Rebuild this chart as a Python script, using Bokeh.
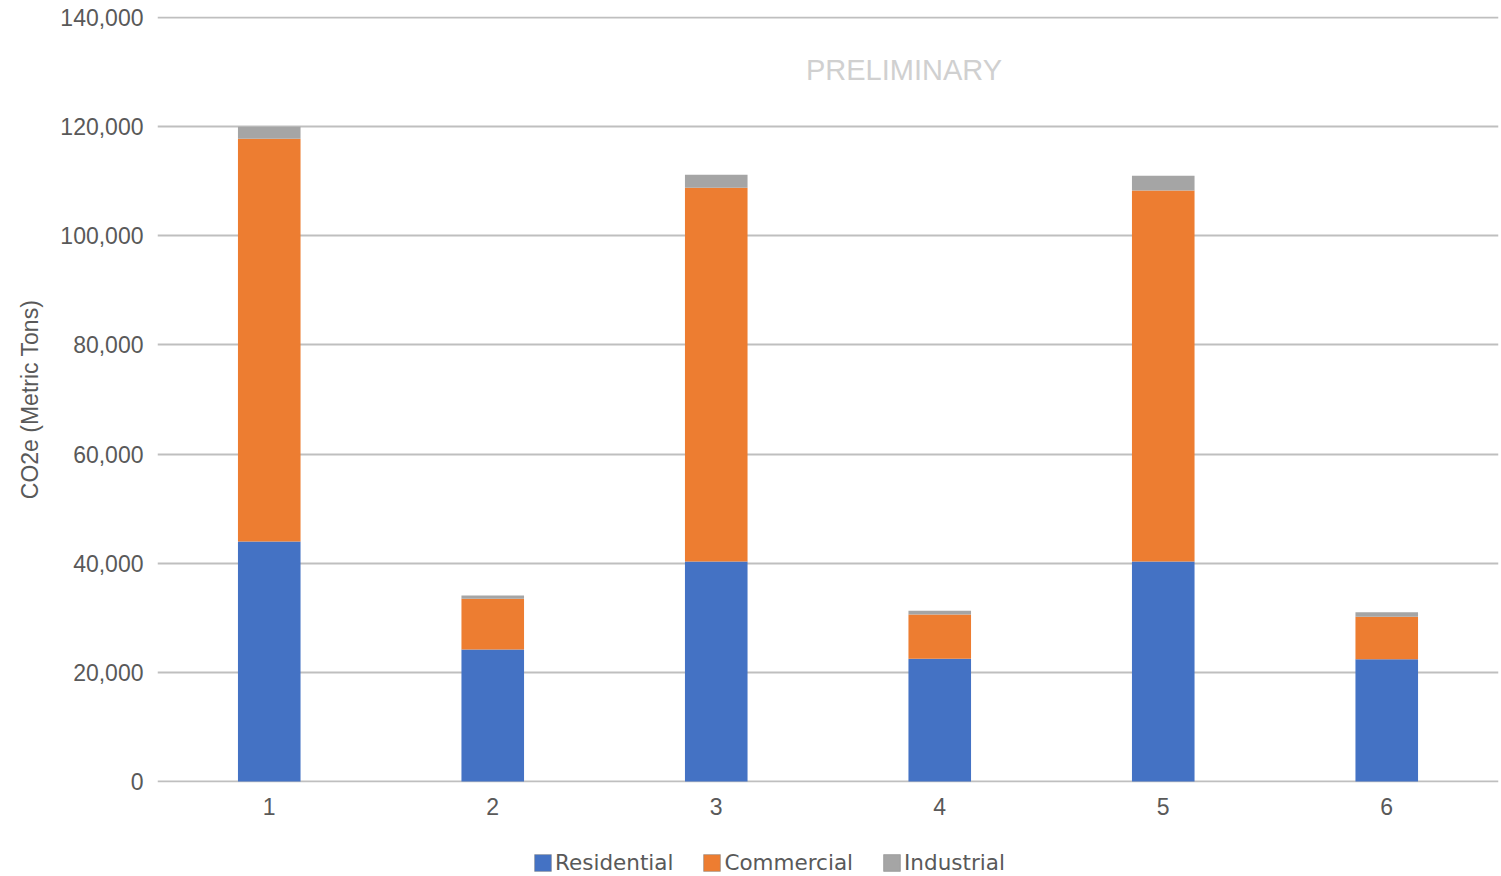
from bokeh.plotting import figure
from bokeh.layouts import column
from bokeh.models import Legend, LegendItem, Label, NumeralTickFormatter, FixedTicker, Range1d
from bokeh.embed import file_html
from bokeh.resources import INLINE

categories = ["1", "2", "3", "4", "5", "6"]
residential = [44000, 24200, 40300, 22500, 40300, 22400]
commercial = [73800, 9300, 68500, 8100, 68000, 7800]
industrial = [2200, 600, 2400, 700, 2700, 800]
series = ["Residential", "Commercial", "Industrial"]
colors = ["#4472C4", "#ED7D31", "#A5A5A5"]
y_ticks = [0, 20000, 40000, 60000, 80000, 100000, 120000, 140000]

data = dict(cat=categories, Residential=residential, Commercial=commercial, Industrial=industrial)

FONT = "Liberation Sans"
TXT = "#595959"

p = figure(x_range=categories, y_range=Range1d(-183, 140183), width=1500, height=832,
           output_backend="svg", toolbar_location=None,
           min_border_left=157, min_border_right=2, min_border_top=16, min_border_bottom=50)

renderers = p.vbar_stack(series, x="cat", width=0.28, color=colors, source=data,
                         line_color=colors, line_width=0)

p.yaxis.ticker = FixedTicker(ticks=y_ticks)
p.yaxis.formatter = NumeralTickFormatter(format="0,0")
p.yaxis.axis_label = "CO2e (Metric Tons)"
p.yaxis.axis_label_text_font = FONT
p.yaxis.axis_label_text_font_size = "23px"
p.yaxis.axis_label_text_font_style = "normal"
p.yaxis.axis_label_text_color = TXT
p.yaxis.axis_label_standoff = 14
p.yaxis.major_label_standoff = 8

for ax in (p.xaxis, p.yaxis):
    ax.axis_line_color = None
    ax.major_tick_line_color = None
    ax.minor_tick_line_color = None
    ax.major_label_text_font = FONT
    ax.major_label_text_font_size = "23px"
    ax.major_label_text_color = TXT
p.xaxis.major_label_standoff = 9

p.xgrid.grid_line_color = None
p.ygrid.grid_line_color = "#bfbfbf"
p.ygrid.grid_line_width = 2
p.outline_line_color = None

p.add_layout(Label(x=3.34, y=130300, text="PRELIMINARY", text_align="center",
                   text_baseline="middle", text_font=FONT, text_font_size="29px",
                   text_color="#d0d0d0"))

# legend strip below the chart (swatch renderers are zero-size helpers, outside the view)
leg = figure(width=1500, height=44, output_backend="svg", toolbar_location=None,
             x_range=Range1d(0, 1), y_range=Range1d(0, 1),
             min_border_left=157, min_border_right=2, min_border_top=0, min_border_bottom=0)
leg.axis.visible = False
leg.grid.grid_line_color = None
leg.outline_line_color = None
swatches = [leg.quad(left=[-2], right=[-2], top=[-2], bottom=[-2], fill_color=c,
                     line_color="#7f7f7f", line_alpha=0.5, line_width=1) for c in colors]
legend = Legend(items=[LegendItem(label=s, renderers=[r]) for s, r in zip(series, swatches)],
                orientation="horizontal", location=(375, 1),
                label_text_font="DejaVu Sans", label_text_font_size="21.5px", label_text_color=TXT,
                glyph_width=21, glyph_height=21, spacing=28, label_standoff=2,
                border_line_color=None, background_fill_alpha=0, margin=0, padding=0)
leg.add_layout(legend, "center")

layout = column(p, leg, spacing=0)
open("out.html", "w").write(file_html(layout, INLINE))
